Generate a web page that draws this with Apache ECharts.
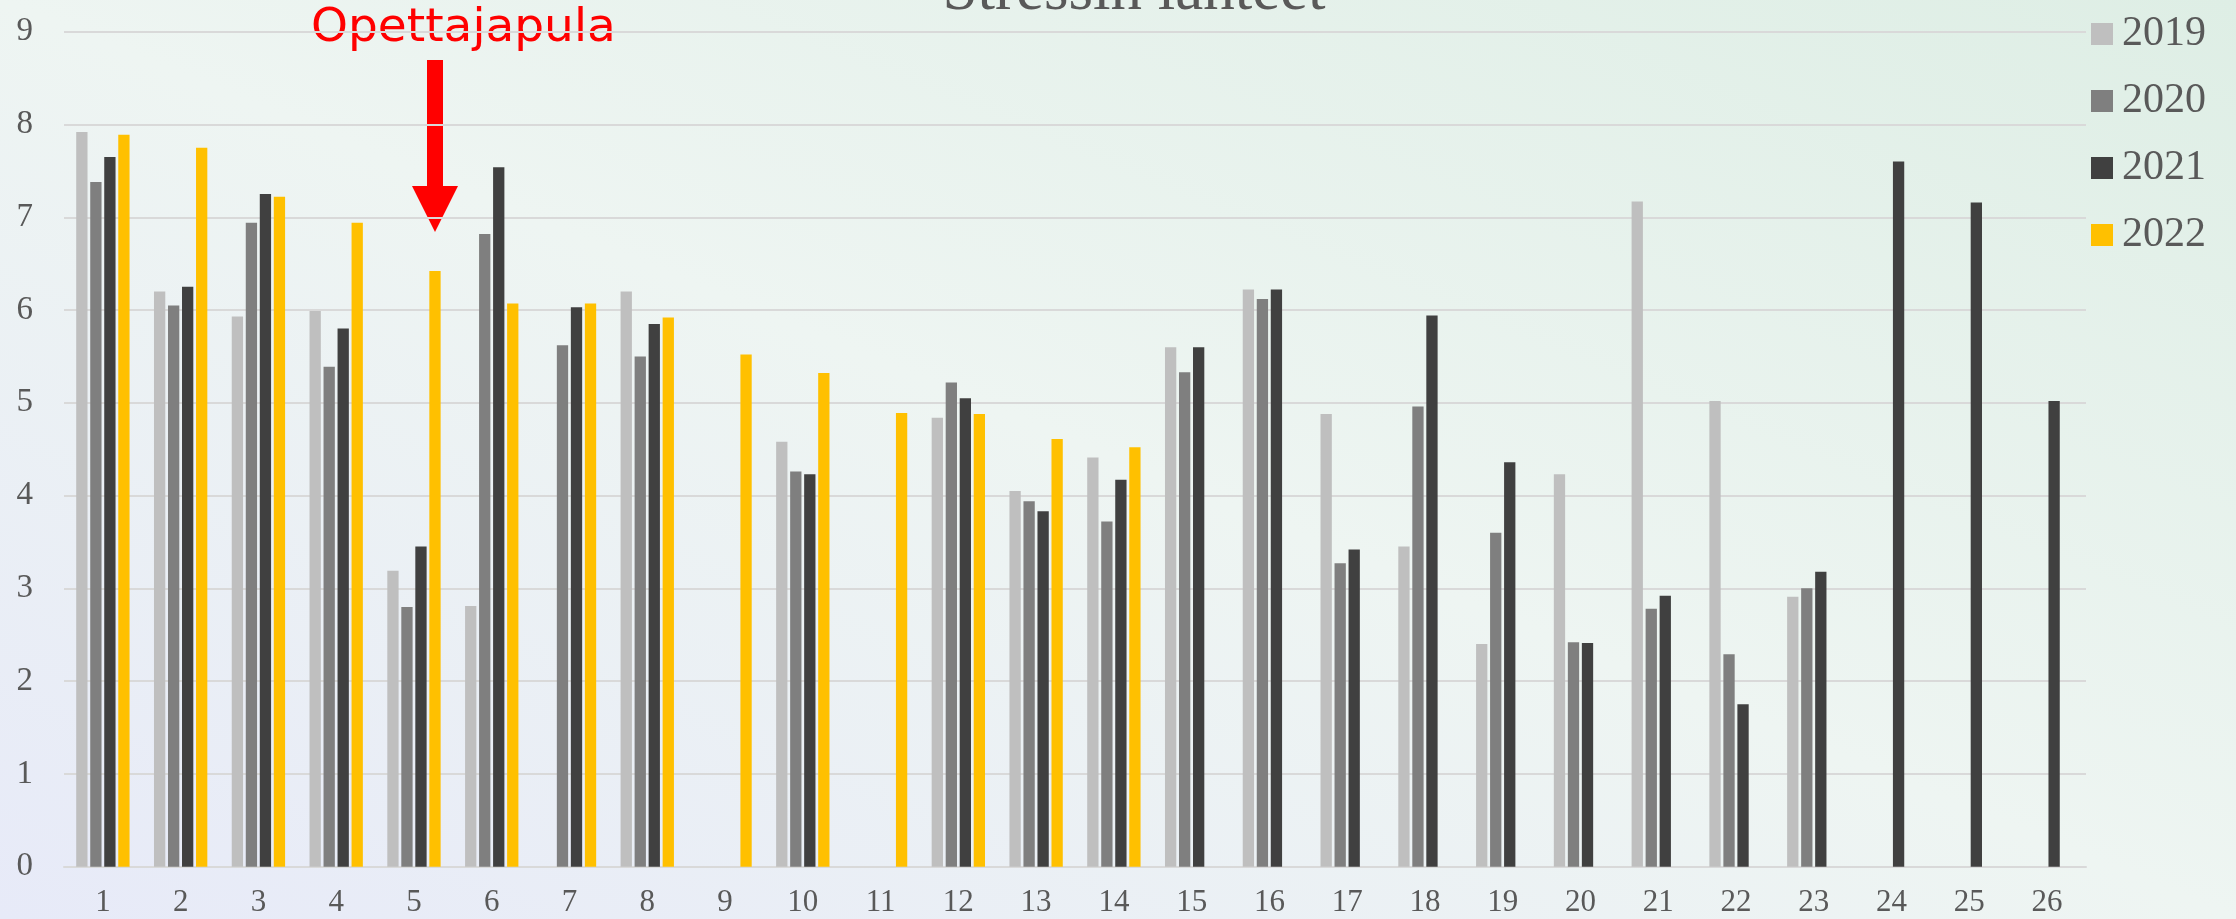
<!DOCTYPE html>
<html>
<head>
<meta charset="utf-8">
<title>Stressin lähteet</title>
<script src="https://cdn.jsdelivr.net/npm/echarts@6/dist/echarts.min.js"></script>
<style>
    html, body { margin: 0; padding: 0; }
    #chart {
        width: 2236px;
        height: 919px;
        background: linear-gradient(to top right, #e7eaf8 0%, #eef5f2 50%, #deeee5 100%);
    }
</style>
</head>
<body>
<div id="chart"></div>
<script>
// luokat 1..26
const categories = ['1','2','3','4','5','6','7','8','9','10','11','12','13','14','15','16','17','18','19','20','21','22','23','24','25','26'];

// arvot luettu kuvasta (null = ei palkkia)
const y2019 = [7.92, 6.20, 5.93, 5.99, 3.19, 2.81, null, 6.20, null, 4.58, null, 4.84, 4.05, 4.41, 5.60, 6.22, 4.88, 3.45, 2.40, 4.23, 7.17, 5.02, 2.91, null, null, null];
const y2020 = [7.38, 6.05, 6.94, 5.39, 2.80, 6.82, 5.62, 5.50, null, 4.26, null, 5.22, 3.94, 3.72, 5.33, 6.12, 3.27, 4.96, 3.60, 2.42, 2.78, 2.29, 3.00, null, null, null];
const y2021 = [7.65, 6.25, 7.25, 5.80, 3.45, 7.54, 6.03, 5.85, null, 4.23, null, 5.05, 3.83, 4.17, 5.60, 6.22, 3.42, 5.94, 4.36, 2.41, 2.92, 1.75, 3.18, 7.60, 7.16, 5.02];
const y2022 = [7.89, 7.75, 7.22, 6.94, 6.42, 6.07, 6.07, 5.92, 5.52, 5.32, 4.89, 4.88, 4.61, 4.52, null, null, null, null, null, null, null, null, null, null, null, null];

const yTicks = [0, 1, 2, 3, 4, 5, 6, 7, 8, 9];

const serif = '"Liberation Serif", "Times New Roman", serif';
const textGrey = '#595959';

const chart = echarts.init(document.getElementById('chart'));

function bar(name, data, color) {
    return {
        name: name,
        type: 'bar',
        data: data,
        barWidth: 11.3,
        barGap: '24%',
        itemStyle: { color: color },
        emphasis: { disabled: true }
    };
}

chart.setOption({
    backgroundColor: 'transparent',
    animation: false,
    grid: { left: 64, right: 150, top: 31.7, bottom: 52.3, containLabel: false },
    legend: {
        orient: 'vertical',
        left: 2091,
        top: 13,
        padding: 0,
        itemWidth: 22,
        itemHeight: 22,
        itemGap: 25,
        icon: 'rect',
        textStyle: { fontFamily: serif, fontSize: 42, lineHeight: 42, color: textGrey, padding: [0, 0, 0, 4] },
        data: ['2019', '2020', '2021', '2022']
    },
    xAxis: {
        type: 'category',
        data: categories,
        axisLine: { lineStyle: { color: '#d9d9d9', width: 2 } },
        axisTick: { show: false },
        axisLabel: { fontFamily: serif, fontSize: 31, color: textGrey, margin: 21 }
    },
    yAxis: {
        type: 'value',
        min: yTicks[0],
        max: yTicks[yTicks.length - 1],
        interval: 1,
        axisLine: { show: false },
        axisTick: { show: false },
        splitLine: { lineStyle: { color: '#d9d9d9', width: 2 } },
        axisLabel: { fontFamily: serif, fontSize: 33, color: textGrey, margin: 31 }
    },
    series: [
        bar('2019', y2019, '#bfbfbf'),
        bar('2020', y2020, '#7f7f7f'),
        bar('2021', y2021, '#404040'),
        bar('2022', y2022, '#ffc000')
    ],
    graphic: [
        // otsikko, leikkautuu yläreunasta kuten alkuperäisessä
        {
            type: 'text',
            silent: true,
            style: {
                x: 1134, y: -8,
                text: 'Stressin lähteet',
                font: '63px ' + serif,
                fill: textGrey,
                textAlign: 'center',
                textVerticalAlign: 'middle'
            }
        },
        {
            type: 'text',
            silent: true,
            style: {
                x: 311, y: 29,
                text: 'Opettajapula',
                font: '47px "DejaVu Sans", Verdana, sans-serif',
                fill: '#ff0000',
                textAlign: 'left',
                textVerticalAlign: 'middle'
            }
        },
        // nuoli
        {
            type: 'rect',
            silent: true,
            shape: { x: 427, y: 60, width: 16, height: 127 },
            style: { fill: '#ff0000' }
        },
        {
            type: 'polygon',
            silent: true,
            shape: { points: [[412, 186], [458, 186], [435, 232]] },
            style: { fill: '#ff0000' }
        }
    ]
});
</script>
</body>
</html>
